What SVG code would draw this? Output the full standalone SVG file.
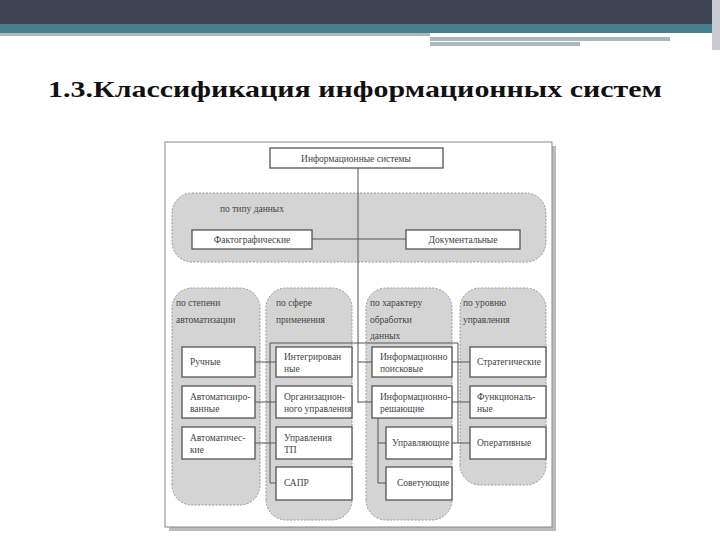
<svg xmlns="http://www.w3.org/2000/svg" width="720" height="540" viewBox="0 0 720 540">
<defs><style>
.t{font-family:"Liberation Serif","DejaVu Serif",serif;font-size:9.5px;fill:#444}
.g{fill:#d4d4d4;stroke:#999;stroke-dasharray:2 1.5;stroke-width:1}
.b{fill:#fff;stroke:#555;stroke-width:1.3}
.c{stroke:#555;stroke-width:1;fill:none}
</style></defs>
<rect width="720" height="540" fill="#fff"/>
<rect width="720" height="24" fill="#3e4452"/>
<rect y="24" width="720" height="9" fill="#468088"/>
<rect y="33" width="430" height="3" fill="#a9b9bd"/>
<rect x="430" y="37" width="240" height="4" fill="#a9b9bd"/>
<rect x="430" y="42" width="150" height="4" fill="#a9b9bd"/>
<rect x="712" y="0" width="8" height="50" fill="#c9c9d2"/>
<text x="48" y="97" font-family="'Liberation Serif','DejaVu Serif',serif" font-weight="bold" font-size="24" fill="#111" textLength="614" lengthAdjust="spacingAndGlyphs">1.3.Классификация информационных систем</text>
<rect x="169" y="146" width="387" height="385" fill="#bbb"/>
<rect x="165" y="142" width="387" height="385" fill="#fff" stroke="#888"/>
<g id="groups">
<rect class="g" x="172" y="193" width="374" height="69" rx="20"/>
<path class="g" d="M172,485V308a20,20 0 0 1 20,-20h48a20,20 0 0 1 20,20V485a20,20 0 0 1 -20,20h-48a20,20 0 0 1 -20,-20z"/>
<path class="g" d="M266,500V308a20,20 0 0 1 20,-20h46a20,20 0 0 1 20,20V500a20,20 0 0 1 -20,20h-46a20,20 0 0 1 -20,-20z"/>
<path class="g" d="M366,500V308a20,20 0 0 1 20,-20h46a20,20 0 0 1 20,20V500a20,20 0 0 1 -20,20h-46a20,20 0 0 1 -20,-20z"/>
<path class="g" d="M460,465V308a20,20 0 0 1 20,-20h46a20,20 0 0 1 20,20V465a20,20 0 0 1 -20,20h-46a20,20 0 0 1 -20,-20z"/>
<text class="t" x="220" y="212">по типу данных</text>
<text class="t" x="176" y="306">по степени</text><text class="t" x="176" y="323">автоматизации</text>
<text class="t" x="276" y="306">по сфере</text><text class="t" x="276" y="323">применения</text>
<text class="t" x="370" y="306">по характеру</text><text class="t" x="370" y="323">обработки</text><text class="t" x="370" y="339">данных</text>
<text class="t" x="463" y="306">по уровню</text><text class="t" x="463" y="323">управления</text>
</g>
<g id="connectors">
<path class="c" d="M358,168V403M312,239H406M270,343H458M270,343V483M255,362H276M255,402H276M255,443H276M270,483H276M358,362H372M358,402H372M378,418V483M378,443H386M378,483H386M458,343V443M452,362H470M452,402H470M452,443H470"/>
</g>
<g id="n0"><rect class="b" x="270" y="148" width="173" height="20"/><text class="t" x="356" y="162" text-anchor="middle">Информационные системы</text></g>
<g id="n1"><rect class="b" x="192" y="230" width="120" height="19"/><text class="t" x="252" y="243" text-anchor="middle">Фактографические</text></g>
<g id="n2"><rect class="b" x="406" y="230" width="114" height="19"/><text class="t" x="463" y="243" text-anchor="middle">Документальные</text></g>
<g id="c1">
<rect class="b" x="182" y="347" width="73" height="30"/><text class="t" x="190" y="365">Ручные</text>
<rect class="b" x="182" y="386" width="73" height="32"/><text class="t" x="190" y="400">Автоматизиро-</text><text class="t" x="190" y="412">ванные</text>
<rect class="b" x="182" y="427" width="73" height="32"/><text class="t" x="190" y="441">Автоматичес-</text><text class="t" x="190" y="453">кие</text>
</g>
<g id="c2">
<rect class="b" x="276" y="347" width="76" height="30"/><text class="t" x="284" y="360">Интегрирован</text><text class="t" x="284" y="372">ные</text>
<rect class="b" x="276" y="386" width="76" height="32"/><text class="t" x="284" y="400">Организацион-</text><text class="t" x="284" y="412">ного управления</text>
<rect class="b" x="276" y="427" width="76" height="32"/><text class="t" x="284" y="441">Управления</text><text class="t" x="284" y="453">ТП</text>
<rect class="b" x="276" y="467" width="76" height="33"/><text class="t" x="284" y="486">САПР</text>
</g>
<g id="c3">
<rect class="b" x="372" y="347" width="80" height="30"/><text class="t" x="380" y="360">Информационно</text><text class="t" x="380" y="372">поисковые</text>
<rect class="b" x="372" y="386" width="80" height="32"/><text class="t" x="380" y="400">Информационно-</text><text class="t" x="380" y="412">решающие</text>
<rect class="b" x="386" y="427" width="66" height="32"/><text class="t" x="392" y="446">Управляющие</text>
<rect class="b" x="386" y="467" width="66" height="33"/><text class="t" x="397" y="486">Советующие</text>
</g>
<g id="c4">
<rect class="b" x="470" y="347" width="76" height="30"/><text class="t" x="477" y="365">Стратегические</text>
<rect class="b" x="470" y="386" width="76" height="32"/><text class="t" x="477" y="400">Функциональ-</text><text class="t" x="477" y="412">ные</text>
<rect class="b" x="470" y="427" width="76" height="32"/><text class="t" x="477" y="446">Оперативные</text>
</g>
</svg>
